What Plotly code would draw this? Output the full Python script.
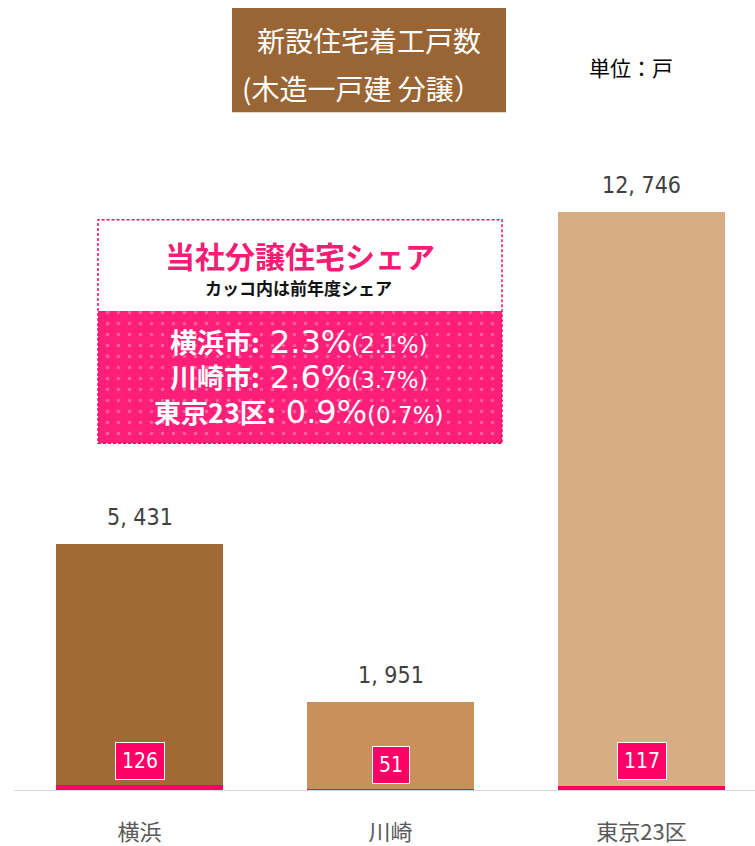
import plotly.graph_objects as go

# ---- data ----
categories = ["横浜", "川崎", "東京23区"]
totals = [5431, 1951, 12746]
own = [126, 51, 117]
bar_colors = ["#A06A36", "#C8915B", "#D6AD85"]
share_cities = ["横浜市", "川崎市", "東京23区"]
share_now = ["2.3%", "2.6%", "0.9%"]
share_prev = ["2.1%", "3.7%", "0.7%"]

W, H = 755, 846
ML, MR, MT, MB = 14, 0, 10, 50
PW, PH = W - ML - MR, H - MT - MB
PINK = "#FF0066"
CJK = "Noto Sans CJK JP"
NARROW = "Liberation Sans Narrow, DejaVu Sans Condensed, Roboto"
WIDE = "DejaVu Sans"

# pixel helpers (decoration only)
def px(x):
    return (x - ML) / PW
def py(y):
    return (H - MB - y) / PH

xs = list(range(len(categories)))
rest = [t - o for t, o in zip(totals, own)]

fig = go.Figure()
fig.add_trace(go.Bar(x=xs, y=own, marker=dict(color=PINK, line=dict(width=0)),
                     width=0.665, hoverinfo="skip", showlegend=False))
fig.add_trace(go.Bar(x=xs, y=rest, marker=dict(color=bar_colors, line=dict(width=0)),
                     width=0.665, hoverinfo="skip", showlegend=False))

# pattern-filled pink panel on an overlay pixel-space axis
fig.add_trace(go.Scatter(
    x=[98, 502, 502, 98, 98], y=[313, 313, 446, 446, 313],
    xaxis="x2", yaxis="y2", mode="lines", fill="toself",
    line=dict(width=0), fillcolor="#FF1F78",
    fillpattern=dict(shape=".", bgcolor="#FF1F78", fgcolor="#FFA0BE",
                     size=11, solidity=0.08),
    hoverinfo="skip", showlegend=False))

annotations = []
# value labels above bars
for i, t in enumerate(totals):
    annotations.append(dict(x=i, y=t, xref="x", yref="y", yshift=27,
                            text=f"{t:,}".replace(",", ", "), showarrow=False,
                            font=dict(family=NARROW, size=23, color="#404040"),
                            xanchor="center", yanchor="middle"))
# own-share count badges
for i, o in enumerate(own):
    annotations.append(dict(x=i, y=0, xref="x", yref="y", yshift=30 if o > 60 else 26,
                            text=str(o), showarrow=False,
                            font=dict(family=NARROW, size=21, color="white"),
                            bgcolor=PINK, bordercolor="white", borderwidth=1,
                            borderpad=6, xanchor="center", yanchor="middle"))

def note(x, y, text, size, color, family=CJK):
    annotations.append(dict(x=px(x), y=py(y), xref="paper", yref="paper",
                            text=text, showarrow=False, xanchor="center",
                            yanchor="middle",
                            font=dict(family=family, size=size, color=color)))

# title box
note(369, 40, "新設住宅着工戸数", 28, "white")
note(362, 89, "(木造一戸建 分譲）", 28, "white")
# unit
note(631, 67, "単位：戸", 21, "#000000")
# share panel text
note(300, 257, "<b>当社分譲住宅シェア</b>", 30, "#F21D74")
note(298, 289, "<b>カッコ内は前年度シェア</b>", 17, "#111111")
line_y = [344, 379, 414]
for c, n, p_, yy in zip(share_cities, share_now, share_prev, line_y):
    txt = (f"<b>{c}:</b>"
           f"<span style='font-family:{WIDE};font-size:32px'> {n}</span>"
           f"<span style='font-family:{WIDE};font-size:23px'>({p_})</span>")
    note(299, yy, txt, 27, "white")

shapes = [
    # title box
    dict(type="rect", xref="paper", yref="paper", x0=px(232), x1=px(506),
         y0=py(113), y1=py(8), fillcolor="#9A6534", line=dict(width=0), layer="below"),
    # share panel dashed border
    dict(type="rect", xref="paper", yref="paper", x0=px(98), x1=px(502),
         y0=py(446), y1=py(221), fillcolor="rgba(0,0,0,0)",
         line=dict(color="#F0106A", width=1.5, dash="3px,2px"), layer="above"),
]

fig.update_layout(
    width=W, height=H, barmode="stack", bargap=0,
    margin=dict(l=ML, r=MR, t=MT, b=MB),
    paper_bgcolor="white", plot_bgcolor="white",
    xaxis=dict(range=[-0.5, -0.5 + PW / 251], tickvals=xs, ticktext=categories,
               showgrid=False, zeroline=False, showline=False, ticks="",
               ticklabelstandoff=26,
               tickfont=dict(family=CJK, size=22, color="#595959")),
    yaxis=dict(range=[0, PH / (583 / 12746)], visible=False, showgrid=False, zeroline=False),
    xaxis2=dict(range=[ML, W - MR], overlaying="x", visible=False, fixedrange=True),
    yaxis2=dict(range=[H - MB, MT], overlaying="y", visible=False, fixedrange=True),
    annotations=annotations, shapes=shapes,
)
# baseline axis line
fig.add_shape(type="line", xref="paper", yref="y", x0=0, x1=1, y0=0, y1=0,
              line=dict(color="#D9D9D9", width=2))

fig.write_html("out.html", config={"displayModeBar": False},
               post_script="document.body.style.margin='0';document.body.style.overflow='hidden';")
